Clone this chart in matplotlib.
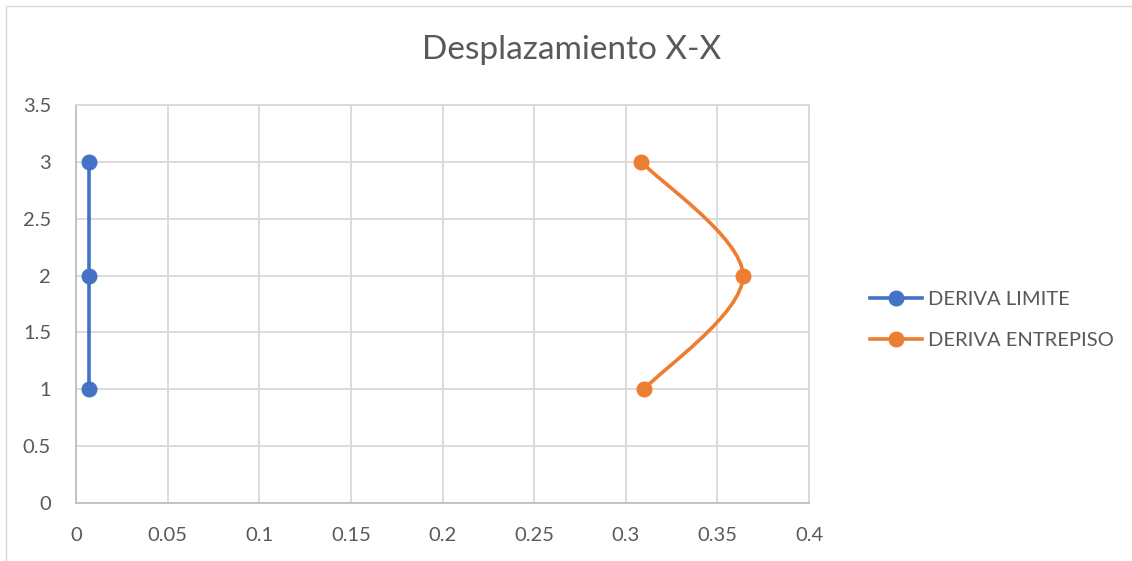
import matplotlib.pyplot as plt
import numpy as np
from matplotlib.path import Path
from matplotlib.patches import PathPatch, Rectangle
from matplotlib.lines import Line2D

plt.rcParams['font.family'] = ['Lato', 'DejaVu Sans']

# data
pisos = [1, 2, 3]
deriva_limite = [0.007, 0.007, 0.007]
deriva_entrepiso = [0.31, 0.364, 0.3085]

xticks = [0, 0.05, 0.1, 0.15, 0.2, 0.25, 0.3, 0.35, 0.4]
yticks = [0, 0.5, 1, 1.5, 2, 2.5, 3, 3.5]

blue = '#4472C4'
orange = '#ED7D31'
grey_txt = '#595959'


def smooth_path(xs, ys):
    # Excel-like smoothed line: Catmull-Rom segments as cubic Beziers
    pts = np.column_stack([xs, ys]).astype(float)
    n = len(pts)
    verts = [pts[0]]
    codes = [Path.MOVETO]
    for i in range(n - 1):
        p0 = pts[max(i - 1, 0)]
        p1 = pts[i]
        p2 = pts[i + 1]
        p3 = pts[min(i + 2, n - 1)]
        c1 = p1 + (p2 - p0) / 6.0
        c2 = p2 - (p3 - p1) / 6.0
        verts += [c1, c2, p2]
        codes += [Path.CURVE4] * 3
    return Path(verts, codes)


fig = plt.figure(figsize=(11.32, 5.61), dpi=100)
fig.patches.append(Rectangle((6 / 1132, -0.1), 1.2, 1 - 6 / 561 + 0.1,
                             transform=fig.transFigure, fill=False,
                             edgecolor='#D9D9D9', linewidth=1))

ax = fig.add_axes([76 / 1132, 58 / 561, 733 / 1132, 398 / 561])

ax.plot(deriva_limite, pisos, color=blue, lw=2.6, marker='o', ms=10.5,
        zorder=3)

ax.add_patch(PathPatch(smooth_path(deriva_entrepiso, pisos), fill=False,
                       edgecolor=orange, lw=2.6, zorder=3,
                       capstyle='round'))
ax.plot(deriva_entrepiso, pisos, ls='none', color=orange, marker='o',
        ms=10.5, zorder=4)

ax.set_xlim(0, 0.4)
ax.set_ylim(0, 3.5)
ax.set_xticks(xticks)
ax.set_yticks(yticks)
ax.set_xticklabels(['0', '0.05', '0.1', '0.15', '0.2', '0.25', '0.3', '0.35', '0.4'])
ax.set_yticklabels(['0', '0.5', '1', '1.5', '2', '2.5', '3', '3.5'])
ax.tick_params(length=0, colors=grey_txt, labelsize=14.5)
ax.tick_params(axis='x', pad=17)
ax.tick_params(axis='y', pad=18)
ax.grid(True, color='#D9D9D9', lw=1.3)
ax.set_axisbelow(True)
for s in ['top', 'right']:
    ax.spines[s].set_color('#D9D9D9')
    ax.spines[s].set_linewidth(1.3)
for s in ['left', 'bottom']:
    ax.spines[s].set_color('#BFBFBF')
    ax.spines[s].set_linewidth(1.3)

fig.text(572 / 1132, 1 - 50 / 561, 'Desplazamiento X-X', ha='center',
         va='center', fontsize=24, color=grey_txt)

handles = [Line2D([], [], color=blue, lw=2.6, marker='o', ms=10.5),
           Line2D([], [], color=orange, lw=2.6, marker='o', ms=10.5)]
fig.legend(handles, ['DERIVA LIMITE', 'DERIVA ENTREPISO'],
           loc='center left', bbox_to_anchor=(852 / 1132, 1 - 320 / 561),
           frameon=False, fontsize=14.5, labelcolor=grey_txt,
           handlelength=2.6, handletextpad=0.25, labelspacing=1.15)

fig.savefig('out.png', dpi=100)
